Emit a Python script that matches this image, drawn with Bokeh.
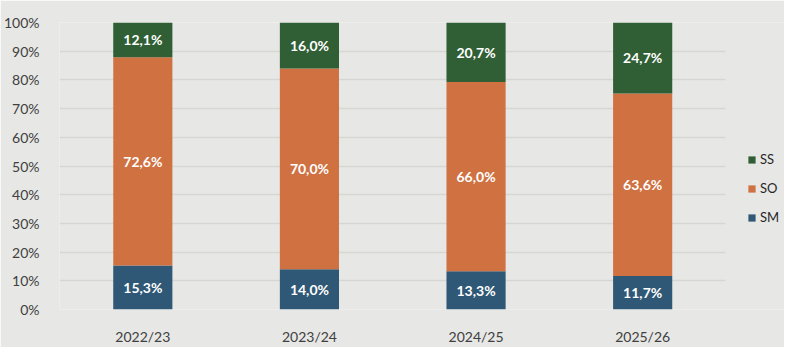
from bokeh.plotting import figure
from bokeh.models import ColumnDataSource, Legend, LegendItem, FixedTicker, Range1d, CustomJSTickFormatter
from bokeh.core.properties import value
from bokeh.embed import file_html
from bokeh.resources import INLINE

years = ["2022/23", "2023/24", "2024/25", "2025/26"]
sm = [15.3, 14.0, 13.3, 11.7]
so = [72.6, 70.0, 66.0, 63.6]
ss = [12.1, 16.0, 20.7, 24.7]
series = ["SM", "SO", "SS"]
colors = ["#2f5876", "#d07142", "#305f36"]
y_ticks = list(range(0, 101, 10))

BG = "#e7e7e5"
FONT = "Lato"

xpos = [i + 0.5 for i in range(len(years))]
src = ColumnDataSource(dict(x=xpos, SM=sm, SO=so, SS=ss))

W, H = 784, 347
LEFT, TOP, BOTTOM = 53, 22, 33
frame_w = W - LEFT
cat_w = 168.0

p = figure(x_range=Range1d(0, frame_w / cat_w), y_range=Range1d(0, 100), width=W, height=H,
           output_backend="svg", toolbar_location=None,
           background_fill_color=BG, border_fill_color=BG,
           min_border_left=LEFT, min_border_right=0, min_border_top=TOP, min_border_bottom=BOTTOM)
p.outline_line_color = None

rs = p.vbar_stack(series, x="x", width=0.355, color=colors, source=src, line_color=None)

def fmt(v):
    return ("%.1f" % v).replace(".", ",") + "%"

lx, ly, lt = [], [], []
for i, xv in enumerate(xpos):
    base = 0
    for arr in (sm, so, ss):
        lx.append(xv)
        ly.append(base + arr[i] / 2)
        lt.append(fmt(arr[i]))
        base += arr[i]
p.text(x=lx, y=ly, text=lt, text_color="white", text_font=value(FONT), text_font_style="bold",
       text_font_size="14px", text_align="center", text_baseline="middle")

p.yaxis.ticker = FixedTicker(ticks=y_ticks)
p.yaxis.formatter = CustomJSTickFormatter(code="return tick + '%';")
p.xaxis.ticker = FixedTicker(ticks=xpos)
p.xaxis.major_label_overrides = {xv: y for xv, y in zip(xpos, years)}
for ax in (p.xaxis, p.yaxis):
    ax.axis_line_color = None
    ax.major_tick_line_color = None
    ax.minor_tick_line_color = None
    ax.major_label_text_font = FONT
    ax.major_label_text_font_size = "14px"
    ax.major_label_text_color = "#404040"
p.yaxis.major_label_standoff = 14
p.xaxis.major_label_standoff = 12
p.xgrid.grid_line_color = None
p.ygrid.grid_line_color = "#d6d6d4"
p.ygrid.grid_line_width = 1.5
p.ygrid.cross_bounds = (0, len(years))

legend = Legend(items=[LegendItem(label=s, renderers=[r]) for s, r in zip(series[::-1], rs[::-1])],
                location=(688, 84), background_fill_alpha=0, border_line_color=None,
                label_text_font=FONT, label_text_font_size="13px", label_text_color="#262626",
                glyph_width=9, glyph_height=9, spacing=13, label_standoff=4, padding=0, margin=0)
p.add_layout(legend)

open("out.html", "w").write(file_html(p, INLINE))
